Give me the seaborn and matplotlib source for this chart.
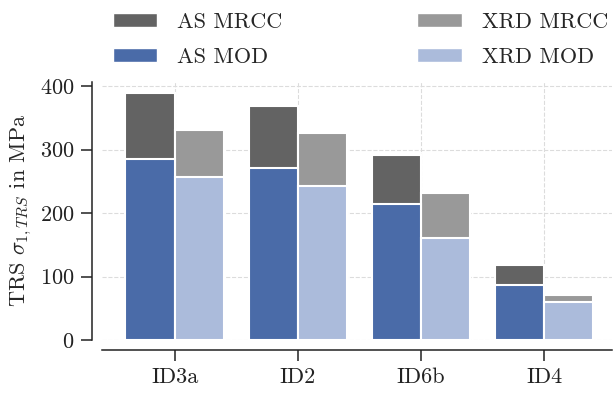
import matplotlib
matplotlib.use("Agg")
import matplotlib.pyplot as plt
from matplotlib.patches import Patch
import seaborn as sns
import pandas as pd

# Residual stress per sample: MRCC totals and modelled (MOD) part
samples = ["ID3a", "ID2", "ID6b", "ID4"]
methods = ["AS", "XRD"]
as_mrcc = [390, 368, 292, 118]
as_mod = [286, 271, 215, 86]
xrd_mrcc = [331, 326, 231, 71]
xrd_mod = [257, 242, 161, 60]
y_ticks = [0, 100, 200, 300, 400]

mrcc_colors = ["#636363", "#999999"]
mod_colors = ["#4a6ba8", "#abbbdb"]

df = pd.DataFrame({
    "sample": samples * 2,
    "method": [methods[0]] * len(samples) + [methods[1]] * len(samples),
    "mrcc": as_mrcc + xrd_mrcc,
    "mod": as_mod + xrd_mod,
})

fs = 16
sns.set_theme(style="ticks")
plt.rcParams.update({
    "font.family": ["cmr10"],
    "mathtext.fontset": "cm",
    "axes.unicode_minus": False,
    "axes.formatter.use_mathtext": True,
    "font.size": fs,
    "xtick.labelsize": fs,
    "ytick.labelsize": fs,
    "axes.labelsize": fs,
    "legend.fontsize": fs,
})

fig = plt.figure(figsize=(6.13, 3.93), dpi=100)
ax = fig.add_axes([0.1664, 0.135, 0.8316, 0.657])

bar_kw = dict(width=0.8, edgecolor="white", linewidth=1.5, ax=ax,
              legend=False, errorbar=None, saturation=1)
sns.barplot(data=df, x="sample", y="mrcc", hue="method", palette=mrcc_colors, **bar_kw)
sns.barplot(data=df, x="sample", y="mod", hue="method", palette=mod_colors, **bar_kw)

ax.grid(True, axis="both", ls="--", color="#dcdcdc", lw=0.8)
ax.set_axisbelow(True)

ax.set_xlim(-0.59, 3.55)
ax.set_ylim(0, 407)
ax.set_yticks(y_ticks)
ax.set_xlabel("")
ax.set_ylabel(r"TRS $\sigma_{1,TRS}$ in MPa")
ax.tick_params(axis="both", length=8, width=1.1, pad=5, colors="#222222")
for s in ax.spines.values():
    s.set_linewidth(1.1)
    s.set_color("#222222")
sns.despine(ax=ax, offset=7)

handles = [
    Patch(facecolor=mrcc_colors[0], label="AS MRCC"),
    Patch(facecolor=mod_colors[0], label="AS MOD"),
    Patch(facecolor=mrcc_colors[1], label="XRD MRCC"),
    Patch(facecolor=mod_colors[1], label="XRD MOD"),
]
fig.legend(handles=handles, loc="upper left", bbox_to_anchor=(113 / 613, 0.968),
           ncol=2, frameon=False, borderpad=0, borderaxespad=0,
           handlelength=2.0, handleheight=0.62, handletextpad=0.9,
           columnspacing=6.05, labelspacing=0.68)

fig.savefig("out.png", dpi=100)
